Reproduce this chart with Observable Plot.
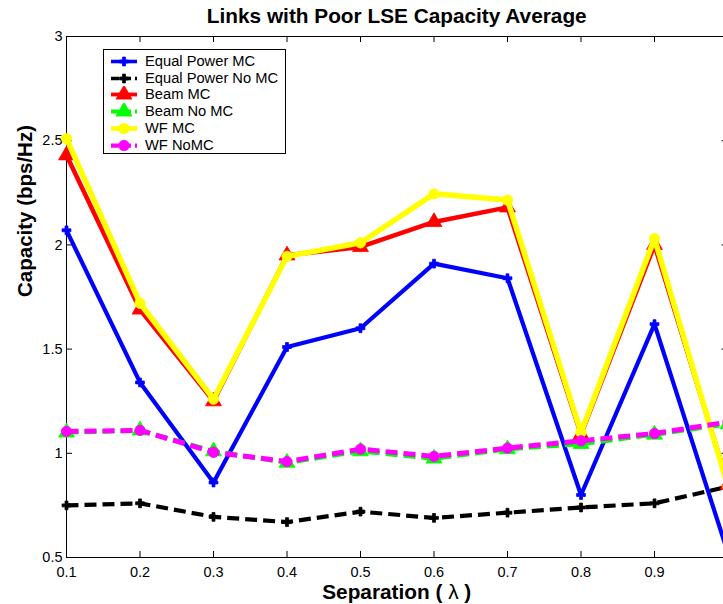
<!DOCTYPE html>
<html>
<head>
<meta charset="utf-8">
<script src="https://cdn.jsdelivr.net/npm/d3@7"></script>
<script src="https://cdn.jsdelivr.net/npm/@observablehq/plot@0.6"></script>
<style>
html,body{margin:0;padding:0;background:#fff;overflow:hidden}
#wrap{position:relative;width:723px;height:604px;overflow:hidden;font-family:Arial,"Liberation Sans",Helvetica,sans-serif;color:#000}
#title{position:absolute;left:66px;width:661.5px;top:0;height:32px;line-height:32px;text-align:center;font-weight:bold;font-size:20.8px;white-space:nowrap}
#chart{position:absolute;left:0;top:32px}
#xlabel{position:absolute;left:66px;width:661.5px;top:580px;height:24px;line-height:24px;text-align:center;font-weight:bold;font-size:20.8px;white-space:nowrap}
#legend{position:absolute;left:103px;top:49px;width:181px;height:103px;border:1px solid #000;background:#fff}
.lrow{position:absolute;left:0;height:17px;width:181px}
.lrow svg{position:absolute;left:4px;top:0}
.lrow span{position:absolute;left:41px;top:0;line-height:17px;font-size:14.7px;white-space:nowrap}
</style>
</head>
<body>
<div id="wrap">
  <div id="title">Links with Poor LSE Capacity Average</div>
  <div id="chart"></div>
  <div id="xlabel">Separation ( <span style="font-weight:normal">λ</span> )</div>
  <div id="legend"></div>
</div>
<script>
// ---- data ----
const separation = [0.1, 0.2, 0.3, 0.4, 0.5, 0.6, 0.7, 0.8, 0.9, 1.0];
const equalPowerMC   = [2.07, 1.34, 0.86, 1.51, 1.60, 1.91, 1.84, 0.80, 1.62, 0.52];
const equalPowerNoMC = [0.75, 0.76, 0.695, 0.67, 0.72, 0.69, 0.715, 0.74, 0.76, 0.84];
const beamMC         = [2.43, 1.69, 1.25, 1.95, 1.99, 2.11, 2.18, 1.09, 2.00, 0.85];
const beamNoMC       = [1.10, 1.11, 1.01, 0.955, 1.01, 0.975, 1.02, 1.045, 1.09, 1.14];
const wfMC           = [2.51, 1.72, 1.26, 1.945, 2.01, 2.245, 2.215, 1.10, 2.03, 0.84];
const wfNoMC         = [1.105, 1.11, 1.005, 0.96, 1.02, 0.985, 1.025, 1.06, 1.095, 1.15];
const seriesNames = ["Equal Power MC", "Equal Power No MC", "Beam MC", "Beam No MC", "WF MC", "WF NoMC"];
const xTicks = [0.1, 0.2, 0.3, 0.4, 0.5, 0.6, 0.7, 0.8, 0.9, 1.0];
const xTickLabels = ["0.1", "0.2", "0.3", "0.4", "0.5", "0.6", "0.7", "0.8", "0.9", ""];
const yTicks = [0.5, 1, 1.5, 2, 2.5, 3];
const yTickLabels = ["0.5", "1", "1.5", "2", "2.5", "3"];
const titleText = "Links with Poor LSE Capacity Average";
const yLabelText = "Capacity (bps/Hz)";

// ---- styles ----
const seriesValues = [equalPowerMC, equalPowerNoMC, beamMC, beamNoMC, wfMC, wfNoMC];
const styles = [
  {color: "#0000ff", width: 4.2, dash: null, symbol: "cross", r: 3.7},
  {color: "#000000", width: 4.2, dash: "12,6", symbol: "cross", r: 3.7},
  {color: "#ff0000", width: 4.5, dash: null, symbol: "triangle", r: 5.9},
  {color: "#00ff00", width: 4.5, dash: "12,6", symbol: "triangle", r: 5.9},
  {color: "#ffff00", width: 5.5, dash: null, symbol: "circle", r: 5.2},
  {color: "#ff00ff", width: 5, dash: "12,6", symbol: "circle", r: 5.2}
];

const series = seriesNames.map((name, i) => ({
  name, ...styles[i],
  data: separation.map((x, j) => ({x, y: seriesValues[i][j]}))
}));

const W = 723, H = 548;
const mL = 66, mR = -4.5, mT = 4, mB = 23;
const frameW = W - mL - mR;
const frameH = H - mT - mB;
const tickLen = 6;

const marks = [
  Plot.frame({stroke: "black", strokeWidth: 1}),
  Plot.axisX({ticks: xTicks, tickSize: 0, tickPadding: 9, tickFormat: d => xTickLabels[xTicks.indexOf(d)], label: null, fontSize: 14.5}),
  Plot.axisY({ticks: yTicks, tickSize: 0, tickPadding: 4, tickFormat: d => yTickLabels[yTicks.indexOf(d)], label: null, fontSize: 14.5}),
  Plot.tickX(xTicks, {x: d => d, insetBottom: frameH - tickLen, stroke: "black"}),
  Plot.tickX(xTicks, {x: d => d, insetTop: frameH - tickLen, stroke: "black"}),
  Plot.tickY(yTicks, {y: d => d, insetRight: frameW - tickLen, stroke: "black"}),
  Plot.tickY(yTicks, {y: d => d, insetLeft: frameW - tickLen, stroke: "black"})
];
for (const s of series) {
  marks.push(Plot.line(s.data, {
    x: "x", y: "y", stroke: s.color, strokeWidth: s.width,
    strokeDasharray: s.dash, strokeLinecap: s.dash ? "butt" : "round", strokeLinejoin: "miter"
  }));
  marks.push(Plot.dot(s.data, {x: "x", y: "y", symbol: s.symbol, r: s.r, fill: s.color, stroke: s.color, strokeWidth: 0.8}));
}
marks.push(Plot.text([yLabelText], {frameAnchor: "left", rotate: -90, dx: -41, text: d => d, fontWeight: "bold", fontSize: 20.5, fill: "black"}));

const chart = Plot.plot({
  width: W, height: H,
  marginLeft: mL, marginRight: mR, marginTop: mT, marginBottom: mB,
  style: {fontFamily: 'Arial, "Liberation Sans", Helvetica, sans-serif', fontSize: "14.5px", color: "black", background: "white", overflow: "visible"},
  x: {domain: [0.1, 1.0]},
  y: {domain: [0.5, 3]},
  marks
});
document.getElementById("chart").appendChild(chart);
document.getElementById("title").textContent = titleText;

// ---- legend ----
const legend = document.getElementById("legend");
const symMap = {cross: d3.symbolCross, triangle: d3.symbolTriangle, circle: d3.symbolCircle};
series.forEach((s, i) => {
  const row = document.createElement("div");
  row.className = "lrow";
  row.style.top = (3 + i * 16.7) + "px";
  const svg = d3.create("svg").attr("width", 34).attr("height", 17);
  svg.append("line").attr("x1", 3).attr("x2", 29).attr("y1", 8.5).attr("y2", 8.5)
    .attr("stroke", s.color).attr("stroke-width", s.width * 0.85)
    .attr("stroke-dasharray", s.dash ? "8,4" : null);
  svg.append("path").attr("transform", "translate(16,8.5)")
    .attr("d", d3.symbol().type(symMap[s.symbol]).size(Math.PI * s.r * s.r)())
    .attr("fill", s.color).attr("stroke", s.color).attr("stroke-width", 0.8);
  row.appendChild(svg.node());
  const span = document.createElement("span");
  span.textContent = s.name;
  row.appendChild(span);
  legend.appendChild(row);
});
</script>
</body>
</html>
